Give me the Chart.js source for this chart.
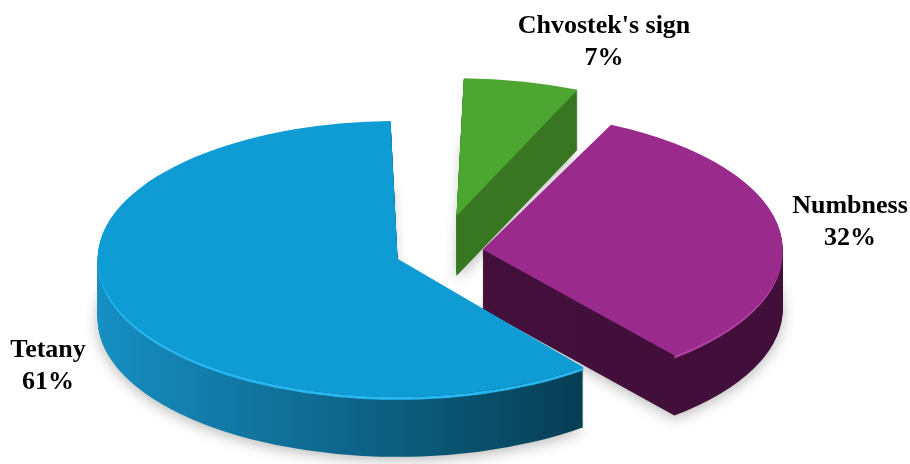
<!DOCTYPE html>
<html>
<head>
<meta charset="utf-8">
<script src="https://cdn.jsdelivr.net/npm/chart.js@4/dist/chart.umd.min.js"></script>
<style>
  html, body { margin: 0; padding: 0; background: #fff; }
  #wrap { width: 910px; height: 464px; }
</style>
</head>
<body>
<div id="wrap"><canvas id="pieChart" width="910" height="464"></canvas></div>
<script>
// Data
const categories = ["Chvostek's sign", 'Numbness', 'Tetany'];
const percents = [7, 32, 61];

// Look of the slices
const topColors = ['#4ea632', '#9b2a8d', '#0f9bd3'];
const sideColors = [['#3b7c25', '#37741f'], ['#45113d', '#420f3a'], ['#168fc3', '#053a4e']];
const rimColors = ['#5cb83c', '#b2409f', '#27b6f0'];
const explode = [80, 44, 44]; // px pulled out from the centre

// Pie geometry on the page
const R = 300;        // outer radius before tilt
const TILT = 0.46;    // vertical squash of the disc
const DEPTH = 60;     // thickness in px
const RIM = 3;        // highlight band under the top edge, px
const CX = 439, CY = 252;

// Label placement (x, name baseline, value baseline)
const labelPos = [[604, 33, 65], [850, 213, 245], [48, 357, 389]];

// same shape Chart.js uses for an offset arc
function sliceGeom(el) {
    const o = (el.options.offset || 0) / 4;
    const half = (el.startAngle + el.endAngle) / 2;
    const fix = 1 - Math.sin(Math.min(Math.PI, el.circumference || 0));
    const ro = o * fix;
    const r = el.outerRadius + ro;
    const alpha = el.endAngle - el.startAngle;
    const beta = Math.max(0.001, alpha * r - ro / Math.PI) / r;
    const trim = (alpha - beta) / 2;
    return {
        x: el.x + Math.cos(half) * o,
        y: el.y + Math.sin(half) * o,
        r: r,
        start: el.startAngle + trim,
        end: el.endAngle - trim
    };
}

const tiltPlugin = {
    id: 'tilt3d',
    afterDatasetsUpdate(chart) {
        // keep every slice at the same radius even when pulled out
        chart.getDatasetMeta(0).data.forEach(el => {
            const o = (el.options.offset || 0) / 4;
            const fix = 1 - Math.sin(Math.min(Math.PI, el.circumference || 0));
            el.outerRadius = R - o * fix;
        });
    },
    beforeDatasetsDraw(chart) {
        const ctx = chart.ctx;
        const arcs = chart.getDatasetMeta(0).data;
        if (!arcs.length) return;
        ctx.save();
        ctx.translate(CX, CY);
        ctx.scale(1, TILT);
        ctx.translate(-arcs[0].x, -arcs[0].y);

        // side walls, back slice first
        arcs.forEach((el, i) => {
            const g = sliceGeom(el);
            const grad = ctx.createLinearGradient(g.x - R, 0, g.x + R * 0.7, 0);
            grad.addColorStop(0, sideColors[i][0]);
            grad.addColorStop(1, sideColors[i][1]);
            for (let d = DEPTH; d >= 1; d--) {
                const dy = d / TILT;
                ctx.save();
                if (d === DEPTH) {
                    ctx.shadowColor = 'rgba(0, 0, 0, 0.28)';
                    ctx.shadowBlur = 14;
                    ctx.shadowOffsetY = 3;
                }
                ctx.fillStyle = grad;
                ctx.beginPath();
                ctx.moveTo(g.x, g.y + dy);
                ctx.arc(g.x, g.y + dy, g.r, g.start, g.end);
                ctx.closePath();
                ctx.fill();
                ctx.restore();
            }
            // light band just under the front edge of the top face
            const a1 = Math.max(g.start, 0);
            const a2 = Math.min(g.end, Math.PI);
            if (a2 > a1) {
                ctx.fillStyle = rimColors[i];
                ctx.beginPath();
                ctx.arc(g.x, g.y + RIM / TILT, g.r, a1, a2);
                ctx.arc(g.x, g.y, g.r, a2, a1, true);
                ctx.closePath();
                ctx.fill();
            }
        });
    },
    afterDatasetsDraw(chart) {
        chart.ctx.restore();
    },
    afterDraw(chart) {
        const ctx = chart.ctx;
        ctx.save();
        ctx.fillStyle = '#000';
        ctx.textAlign = 'center';
        ctx.textBaseline = 'alphabetic';
        ctx.font = 'bold 26px "Liberation Serif", "Times New Roman", serif';
        categories.forEach((name, i) => {
            const p = labelPos[i];
            ctx.fillText(name, p[0], p[1]);
            ctx.fillText(percents[i] + '%', p[0], p[2]);
        });
        ctx.restore();
    }
};

const ctx = document.getElementById('pieChart').getContext('2d');
new Chart(ctx, {
    type: 'pie',
    data: {
        labels: categories,
        datasets: [{
            data: percents,
            backgroundColor: topColors,
            borderWidth: 0,
            offset: explode.map(v => v * 4),
            hoverOffset: 0,
            radius: R
        }]
    },
    options: {
        responsive: false,
        animation: false,
        events: [],
        layout: { padding: 0 },
        plugins: {
            legend: { display: false },
            tooltip: { enabled: false }
        }
    },
    plugins: [tiltPlugin]
});
</script>
</body>
</html>
